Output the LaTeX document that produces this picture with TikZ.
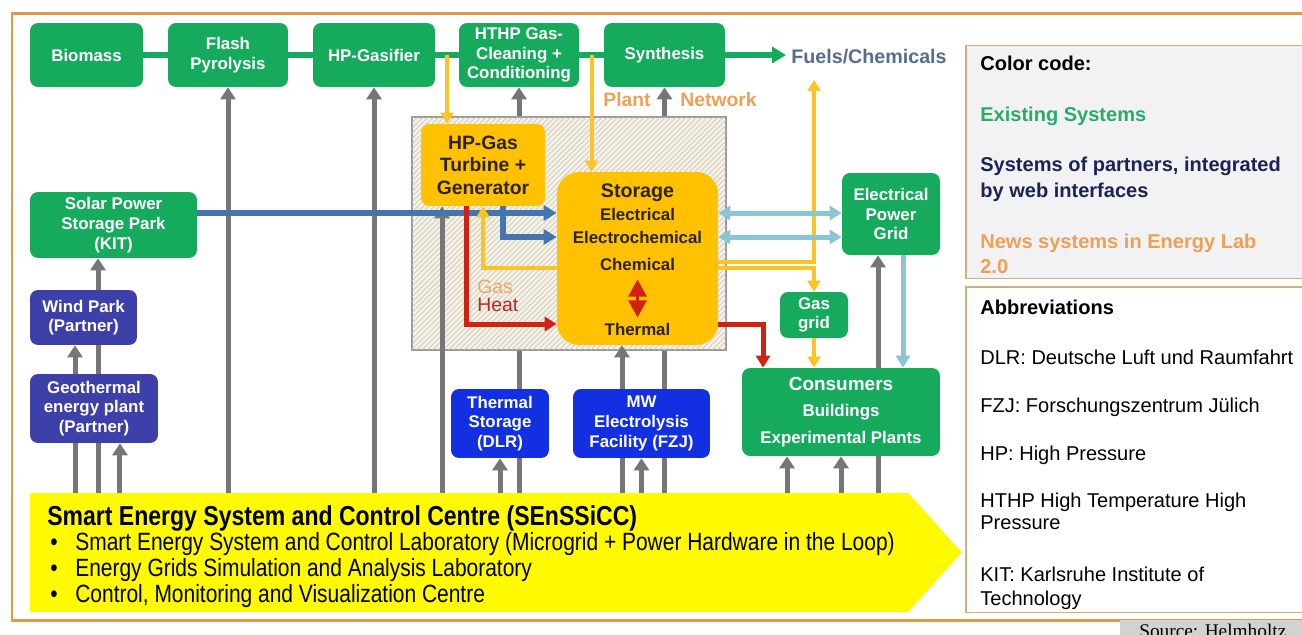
\documentclass[tikz,border=0pt]{standalone}
\usepackage{fontspec}
\setmainfont{Liberation Sans}
\newfontfamily\narrowsans[FakeStretch = 0.84]{Liberation Sans}
\newfontfamily\sourceserif{Liberation Serif}
\usetikzlibrary{arrows.meta, calc, patterns, backgrounds, shapes.symbols}

\definecolor{exgreen}{RGB}{22,170,92}
\definecolor{ptpurple}{RGB}{62,64,170}
\definecolor{ptblue}{RGB}{18,48,226}
\definecolor{nwyellow}{RGB}{255,193,0}
\definecolor{nwtext}{RGB}{45,35,20}
\definecolor{ctrlgray}{RGB}{118,118,120}
\definecolor{gasyellow}{RGB}{250,196,40}
\definecolor{elblue}{RGB}{70,116,172}
\definecolor{gridblue}{RGB}{140,196,212}
\definecolor{heatred}{RGB}{208,34,20}
\definecolor{heatbrown}{RGB}{176,44,30}
\definecolor{gasorange}{RGB}{232,168,112}
\definecolor{netfill}{RGB}{245,241,228}
\definecolor{netline}{RGB}{205,200,190}
\definecolor{frameorange}{RGB}{224,152,72}
\definecolor{legendtan}{RGB}{204,176,128}
\definecolor{legendfill}{RGB}{242,242,245}
\definecolor{fuelblue}{RGB}{86,110,140}
\definecolor{plantorange}{RGB}{236,160,88}
\definecolor{navytext}{RGB}{26,36,82}
\definecolor{legendgreen}{RGB}{40,172,104}
\definecolor{senyellow}{RGB}{255,250,0}
\definecolor{srcgray}{RGB}{210,210,210}

\newcommand\bxfont{\fontsize{9.6}{11.2}\selectfont\bfseries}
\newcommand\bigbxfont{\fontsize{11}{12.8}\selectfont\bfseries}
\newcommand\lgfont{\fontsize{11.4}{14}\selectfont}

\begin{document}
\begin{tikzpicture}[x = 0.02cm, y = -0.02cm,
    box/.style = {rectangle, rounded corners = 0.16cm, align = center, inner sep = 0pt, font = \bxfont},
    existing/.style = {box, fill = exgreen, text = white},
    partner/.style = {box, fill = ptpurple, text = white},
    partnerlab/.style = {box, fill = ptblue, text = white},
    newsys/.style = {box, fill = nwyellow, text = nwtext},
    stotext/.style = {inner sep = 0pt, text = nwtext, font = \bxfont},
    ctrlline/.style = {draw = ctrlgray, line width = 0.1cm},
    ctrlarrow/.style = {ctrlline, -{Triangle[length = 0.24cm, width = 0.3cm]}},
    greenlink/.style = {draw = exgreen, line width = 0.13cm},
    gasline/.style = {draw = gasyellow, line width = 0.08cm, -{Triangle[length = 0.22cm, width = 0.26cm]}},
    elink/.style = {draw = elblue, line width = 0.12cm, -{Triangle[length = 0.26cm, width = 0.3cm]}},
    gridlink/.style = {draw = gridblue, line width = 0.1cm, -{Triangle[length = 0.24cm, width = 0.28cm]}},
    gridboth/.style = {gridlink, {Triangle[length = 0.24cm, width = 0.28cm]}-{Triangle[length = 0.24cm, width = 0.28cm]}},
    heatlink/.style = {draw = heatred, line width = 0.1cm, -{Triangle[length = 0.24cm, width = 0.28cm]}},
    lgtext/.style = {anchor = base west, inner sep = 0pt, font = \lgfont},
    sentext/.style = {anchor = base west, inner sep = 0pt, font = \narrowsans\fontsize{14.2}{15}\selectfont}]

    \useasboundingbox (0,0) rectangle (1302,635);
    \begin{pgfonlayer}{background}
        \fill[white] (0,0) rectangle (1302,635);
    \end{pgfonlayer}
    \clip (0,0) rectangle (1302,635);
    \draw[frameorange, line width = 0.06cm] (1320,14) -| (12,620) -- (1320,620);

    \node[draw = legendtan, fill = legendfill, line width = 0.03cm, anchor = north west, minimum width = 7cm, minimum height = 4.66cm] (LEGA) at (965,45) {};
    \node[draw = legendtan, fill = white, line width = 0.03cm, anchor = north west, minimum width = 7cm, minimum height = 6.52cm] (LEGB) at (965,286) {};
    \node[anchor = north west, fill = srcgray, minimum width = 3.7cm, minimum height = 0.44cm, inner sep = 0pt, font = \sourceserif\fontsize{11}{12}\selectfont] (SRC) at (1120,620) {Source: Helmholtz};

    \node[draw = gray!80, line width = 0.04cm, fill = netfill, postaction = {pattern = north east lines, pattern color = netline}, minimum width = 6.28cm, minimum height = 4.66cm, inner sep = 0pt] (NET) at (569,233.5) {};

    \node[existing, minimum width = 2.26cm, minimum height = 1.28cm] (BIO) at (86.5,55) {Biomass};
    \node[existing, minimum width = 2.4cm, minimum height = 1.28cm] (FP) at (228,55) {Flash\\Pyrolysis};
    \node[existing, minimum width = 2.44cm, minimum height = 1.28cm] (GAS) at (374,55) {HP-Gasifier};
    \node[existing, minimum width = 2.4cm, minimum height = 1.28cm] (HTHP) at (519,55) {HTHP Gas-\\Cleaning +\\Conditioning};
    \node[existing, minimum width = 2.42cm, minimum height = 1.28cm] (SYN) at (664.5,55) {Synthesis};
    \node[anchor = west, inner sep = 0pt, font = \fontsize{11.2}{12}\selectfont\bfseries, text = fuelblue] (FUEL) at (791,57) {Fuels/Chemicals};

    \node[existing, minimum width = 3.34cm, minimum height = 1.32cm] (SOL) at (113.5,225) {Solar Power\\Storage Park\\(KIT)};
    \node[partner, minimum width = 2.14cm, minimum height = 1.1cm] (WIND) at (83.5,317.5) {Wind Park\\(Partner)};
    \node[partner, minimum width = 2.56cm, minimum height = 1.38cm] (GEO) at (94,408.5) {Geothermal\\energy plant\\(Partner)};
    \node[partnerlab, minimum width = 1.96cm, minimum height = 1.38cm] (TS) at (500,423.5) {Thermal\\Storage\\(DLR)};
    \node[partnerlab, minimum width = 2.74cm, minimum height = 1.38cm] (MW) at (641.5,423.5) {MW\\Electrolysis\\Facility (FZJ)};
    \node[existing, minimum width = 3.96cm, minimum height = 1.76cm] (CON) at (841,412) {{\fontsize{10.8}{12}\selectfont Consumers}\\[0.13cm]Buildings\\[0.13cm]Experimental Plants};
    \node[existing, minimum width = 1.96cm, minimum height = 1.64cm] (EPG) at (891,214) {Electrical\\Power\\Grid};
    \node[existing, minimum width = 1.36cm, minimum height = 0.92cm] (GG) at (814,315) {Gas\\grid};

    \node[newsys, font = \bigbxfont, minimum width = 2.48cm, minimum height = 1.64cm] (TUR) at (483,165) {HP-Gas\\Turbine +\\Generator};
    \node[newsys, rounded corners = 0.44cm, minimum width = 3.22cm, minimum height = 3.46cm] (STO) at (637.5,258.5) {};
    \node[stotext, font = \fontsize{11.2}{12}\selectfont\bfseries] (STOT) at (637.5,193) {Storage};
    \node[stotext] (ELEC) at (637.5,214) {Electrical};
    \node[stotext] (ECHEM) at (637.5,237) {Electrochemical};
    \node[stotext] (CHEM) at (637.5,264) {Chemical};
    \node[stotext] (THER) at (637.5,329) {Thermal};

    \node[inner sep = 0pt, font = \fontsize{11}{12}\selectfont\bfseries, text = plantorange] (PLT) at (627,100) {Plant};
    \node[inner sep = 0pt, font = \fontsize{11}{12}\selectfont\bfseries, text = plantorange] (NWK) at (718.5,100) {Network};
    \node[anchor = west, inner sep = 0pt, font = \fontsize{11}{12}\selectfont, text = gasorange] (GASL) at (477,287) {Gas};
    \node[anchor = west, inner sep = 0pt, font = \fontsize{11}{12}\selectfont, text = heatbrown] (HEATL) at (477,305) {Heat};

    \node[signal, signal to = east, signal pointer angle = 96, fill = senyellow, minimum width = 18.64cm, minimum height = 2.38cm, inner sep = 0pt] (SEN) at (469,552.5) {};
    \node[sentext, font = \narrowsans\bfseries\fontsize{15.6}{17}\selectfont] (SENT) at (47,525) {Smart Energy System and Control Centre (SEnSSiCC)};
    \node[sentext] (SENA) at (50,550) {\makebox[0.5cm][l]{\textbullet}Smart Energy System and Control Laboratory (Microgrid + Power Hardware in the Loop)};
    \node[sentext] (SENB) at (50,576) {\makebox[0.5cm][l]{\textbullet}Energy Grids Simulation and Analysis Laboratory};
    \node[sentext] (SENC) at (50,602) {\makebox[0.5cm][l]{\textbullet}Control, Monitoring and Visualization Centre};

    \node[lgtext, font = \lgfont\bfseries] (LCC) at (980,71) {Color code:};
    \node[lgtext, font = \lgfont\bfseries, text = legendgreen] (LEX) at (980,122) {Existing Systems};
    \node[lgtext, font = \lgfont\bfseries, text = navytext] (LPA) at (980,172) {Systems of partners, integrated};
    \node[lgtext, font = \lgfont\bfseries, text = navytext] (LPB) at (980,197) {by web interfaces};
    \node[lgtext, font = \lgfont\bfseries, text = plantorange] (LNA) at (980,248) {News systems in Energy Lab};
    \node[lgtext, font = \lgfont\bfseries, text = plantorange] (LNB) at (980,273) {2.0};
    \node[lgtext, font = \lgfont\bfseries] (LAB) at (980,314) {Abbreviations};
    \node[lgtext] (LDLR) at (980,364) {DLR: Deutsche Luft und Raumfahrt};
    \node[lgtext] (LFZJ) at (980,412) {FZJ: Forschungszentrum Jülich};
    \node[lgtext] (LHP) at (980,460) {HP: High Pressure};
    \node[lgtext] (LHTA) at (980,507) {HTHP High Temperature High};
    \node[lgtext] (LHTB) at (980,529) {Pressure};
    \node[lgtext] (LKA) at (980,581) {KIT: Karlsruhe Institute of};
    \node[lgtext] (LKB) at (980,605) {Technology};

    \coordinate (GT) at ($(GAS.east)!0.5!(HTHP.west)$);
    \coordinate (GS) at ($(HTHP.east)!0.5!(SYN.west)$);
    \coordinate (FUP) at (814,80);
    \coordinate (R1) at (0,213);
    \coordinate (R2) at (0,237);
    \coordinate (R3) at (0,262);
    \coordinate (R4) at (0,268);
    \coordinate (R5) at (0,324);

    \begin{pgfonlayer}{background}
        \draw[ctrlarrow] ([xshift = -0.17cm]WIND.south |- SEN.north) -- ([xshift = -0.17cm]WIND.south);
        \draw[ctrlarrow] ([xshift = -0.31cm]SOL.south |- SEN.north) -- ([xshift = -0.31cm]SOL.south);
        \draw[ctrlarrow] (HTHP.south |- SEN.north) -- (HTHP.south);
        \draw[ctrlarrow] (SYN.south |- SEN.north) -- (SYN.south);
        \draw[ctrlline] ([xshift = -0.31cm]STO.south |- SEN.north) -- ([xshift = -0.31cm]STO.south);
        \draw[ctrlarrow] ([xshift = -0.26cm]EPG.south |- SEN.north) -- ([xshift = -0.26cm]EPG.south);
    \end{pgfonlayer}

    \draw[ctrlarrow] ([xshift = 0.52cm]GEO.south |- SEN.north) -- ([xshift = 0.52cm]GEO.south);
    \draw[ctrlarrow] (FP.south |- SEN.north) -- (FP.south);
    \draw[ctrlarrow] (GAS.south |- SEN.north) -- (GAS.south);
    \draw[ctrlarrow] ([xshift = -0.82cm]TUR.south |- SEN.north) -- ([xshift = -0.82cm]TUR.south);
    \draw[ctrlarrow] (TS.south |- SEN.north) -- (TS.south);
    \draw[ctrlarrow] (MW.south |- SEN.north) -- (MW.south);
    \draw[ctrlarrow] ([xshift = -1.08cm]CON.south |- SEN.north) -- ([xshift = -1.08cm]CON.south);
    \draw[ctrlarrow] (CON.south |- SEN.north) -- (CON.south);
    \draw[ctrlarrow] ([xshift = -0.31cm]STO.south |- MW.north) -- ([xshift = -0.31cm]STO.south);

    \draw[greenlink] (BIO) -- (FP);
    \draw[greenlink] (FP) -- (GAS);
    \draw[greenlink] (GAS) -- (HTHP);
    \draw[greenlink] (HTHP) -- (SYN);
    \draw[greenlink, -{Triangle[length = 0.28cm, width = 0.32cm]}, shorten > = 0.1cm] (SYN.east) -- (SYN.east -| FUEL.west);

    \draw[elink] (SOL.east |- R1) -- (STO.west |- R1);
    \draw[elink] ([xshift = 0.4cm]TUR.south) |- (STO.west |- R2);
    \draw[heatlink] ([xshift = -0.34cm]TUR.south) |- (STO.west |- R5);
    \draw[heatlink] (STO.east |- R5) -| ([xshift = -1.56cm]CON.north);

    \draw[gasline] (GT) -- (GT |- TUR.north);
    \draw[gasline] (GS) -- (GS |- STO.north);
    \draw[gasline] (STO.west |- R4) -| (TUR.south);
    \draw[gasline] (STO.east |- R3) -| (FUP);
    \draw[gasline] (STO.east |- R4) -| (GG.north);
    \draw[gasline] (GG.south) -- (GG.south |- CON.north);

    \draw[gridboth] (STO.east |- R1) -- (EPG.west |- R1);
    \draw[gridboth] (STO.east |- R2) -- (EPG.west |- R2);
    \draw[gridlink] ([xshift = 0.24cm]EPG.south) -- ([xshift = 0.24cm]EPG.south |- CON.north);

    \draw[draw = heatred, line width = 0.05cm, {Triangle[length = 0.34cm, width = 0.36cm]}-{Triangle[length = 0.34cm, width = 0.36cm]}, shorten < = 0.18cm, shorten > = 0.1cm] (CHEM) -- (THER);
\end{tikzpicture}
\end{document}
